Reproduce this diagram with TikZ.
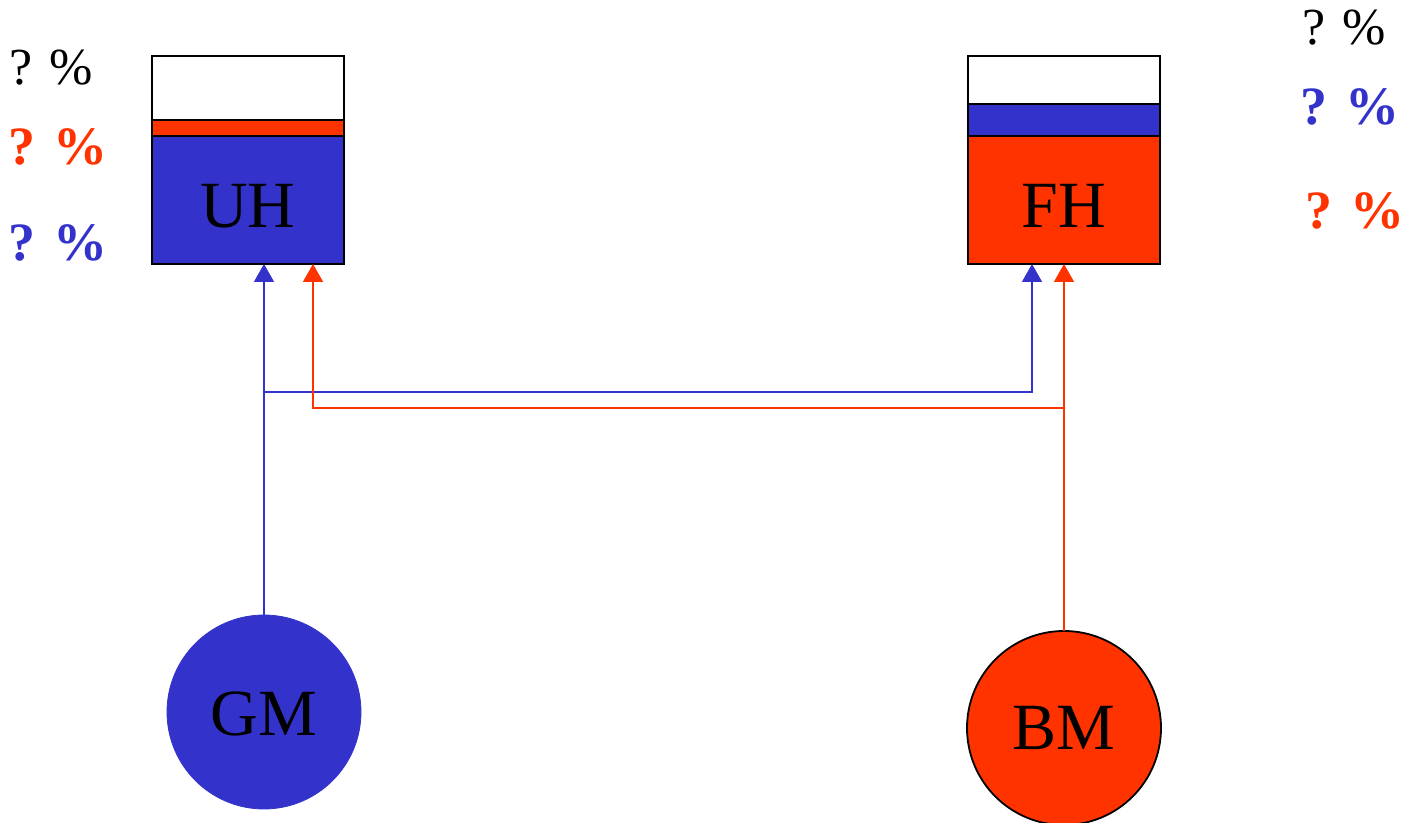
\documentclass[tikz,border=0pt]{standalone}
\usepackage{fontspec}
\setmainfont{Liberation Serif}
\usetikzlibrary{arrows.meta}
\definecolor{hblue}{RGB}{51,51,204}
\definecolor{hred}{RGB}{255,51,0}
\begin{document}
\begin{tikzpicture}[
          x=0.5pt, y=-0.5pt,
          house/.style={draw=black, line width=0.9pt, minimum width=96pt, minimum height=64pt, inner sep=0pt, outer sep=0pt, font=\fontsize{33}{36}\selectfont},
          band/.style={draw=black, line width=0.9pt},
          parent/.style={circle, minimum size=97pt, inner sep=0pt, outer sep=0pt, font=\fontsize{33}{36}\selectfont},
          wire/.style={line width=0.8pt},
          feed/.style={wire, -{Triangle[length=9pt, width=10pt]}},
          share/.style={font=\fontsize{26}{30}\selectfont},
          boldshare/.style={font=\fontsize{27}{30}\selectfont\bfseries}
        ]
        \useasboundingbox (0,0) rectangle (1408,823);
        \node[house, fill=hblue] (uh) at (248,200) {\raisebox{-3pt}[\height][0pt]{UH}};
        \draw[band, fill=hred] (uh.north west) rectangle ++(192,-16);
        \draw[band, fill=white] ([yshift=8pt]uh.north west) rectangle ++(192,-64);
        \node[house, fill=hred] (fh) at (1064,200) {\raisebox{-3pt}[\height][0pt]{FH}};
        \draw[band, fill=hblue] (fh.north west) rectangle ++(192,-32);
        \draw[band, fill=white] ([yshift=16pt]fh.north west) rectangle ++(192,-48);
        \node[parent, fill=hblue, draw=hblue] (gm) at (264,712) {\raisebox{-1pt}[\height][0pt]{GM}};
        \node[parent, fill=hred, draw=black, line width=0.9pt] (bm) at (1064,728) {BM};
        \coordinate (gmsplit) at (264,392);
        \coordinate (bmsplit) at (1064,408);
        \draw[feed, hblue] (gm.north) -- (gm.north |- uh.south);
        \draw[feed, hred] (bm.north) -- (fh.south);
        \draw[feed, hblue] (gmsplit) -| ([xshift=-16pt]fh.south);
        \draw[feed, hred] (bmsplit) -| ([xshift=32.5pt]uh.south);
        \node[share] (uhrest) at (51,68) {? \%};
        \node[boldshare, hred] (uhred) at (58,147) {? \%};
        \node[boldshare, hblue] (uhblue) at (58,243) {? \%};
        \node[share] (fhrest) at (1344,28) {? \%};
        \node[boldshare, hblue] (fhblue) at (1350,107) {? \%};
        \node[boldshare, hred] (fhred) at (1355,211) {? \%};
        \end{tikzpicture}
\end{document}
